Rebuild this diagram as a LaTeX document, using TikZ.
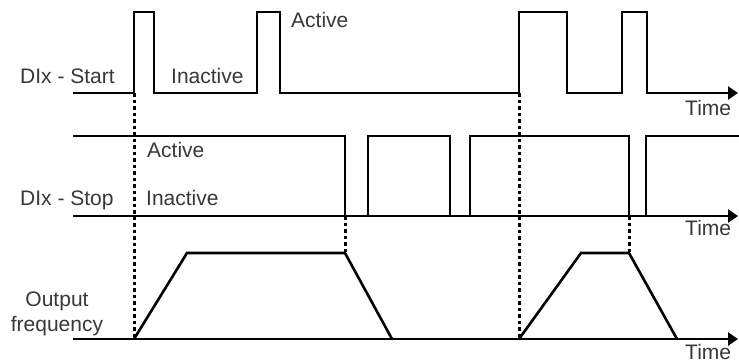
\documentclass[tikz,border=0pt]{standalone}
\usepackage{fontspec}
\setmainfont{Liberation Sans}
\usetikzlibrary{arrows.meta}
\definecolor{txt}{HTML}{383838}
\begin{document}
\begin{tikzpicture}[x=1pt,y=-1pt,
  wave/.style={line width=2.6pt, line join=miter},
  axis/.style={line width=2.6pt, -{Triangle[length=10pt,width=13pt]}},
  dots/.style={line width=3pt, dash pattern=on 3.5pt off 3pt},
  lbl/.style={font=\fontsize{21}{25}\selectfont, text=txt, inner sep=0pt, anchor=base west},
  lblc/.style={lbl, anchor=base}]
\useasboundingbox (0,0) rectangle (739,362);
% coordinates
\coordinate (s0) at (73,93);   \coordinate (s1) at (738,93);
\coordinate (p0) at (73,216);  \coordinate (p1) at (738,216);
\coordinate (f0) at (73,339);  \coordinate (f1) at (738,339);
% dotted guides
\coordinate (d1a) at (134,93);  \coordinate (d1b) at (134,339);
\coordinate (d2a) at (519,93);  \coordinate (d2b) at (519,339);
\coordinate (d3a) at (345,216); \coordinate (d3b) at (345,253);
\coordinate (d4a) at (629,216); \coordinate (d4b) at (629,253);
\draw[dots] (d1a) -- (d1b);
\draw[dots] (d2a) -- (d2b);
\draw[dots] (d3a) -- (d3b);
\draw[dots] (d4a) -- (d4b);
% DIx - Start
\draw[wave, axis] (s0) -- (134,93) -- (134,12) -- (154,12) -- (154,93) -- (257,93) -- (257,12) -- (280,12) -- (280,93)
  -- (519,93) -- (519,12) -- (567,12) -- (567,93) -- (622,93) -- (622,12) -- (647,12) -- (647,93) -- (s1);
% DIx - Stop
\draw[axis] (p0) -- (p1);
\draw[wave] (73,136) -- (345,136) -- (345,216) -- (368,216) -- (368,136) -- (450,136) -- (450,216) -- (470,216)
  -- (470,136) -- (629,136) -- (629,216) -- (646,216) -- (646,136) -- (739,136);
% Output frequency
\draw[axis] (f0) -- (f1);
\draw[wave] (134,339) -- (187,253) -- (345,253) -- (392,339);
\draw[wave] (519,339) -- (581,253) -- (629,253) -- (677,339);
% labels
\node[lbl] (lstart) at (20,83) {DIx - Start};
\node[lbl] (linact1) at (171,83) {Inactive};
\node[lbl] (lact1) at (291,27) {Active};
\node[lbl] (lt1) at (685,115) {Time};
\node[lbl] (lstop) at (20,205) {DIx - Stop};
\node[lbl] (lact2) at (147,157) {Active};
\node[lbl] (linact2) at (146,205) {Inactive};
\node[lbl] (lt2) at (685,235) {Time};
\node[lblc] (lout) at (57,306) {Output};
\node[lblc] (lfreq) at (57,331) {frequency};
\node[lbl] (lt3) at (685,359) {Time};
\end{tikzpicture}
\end{document}
